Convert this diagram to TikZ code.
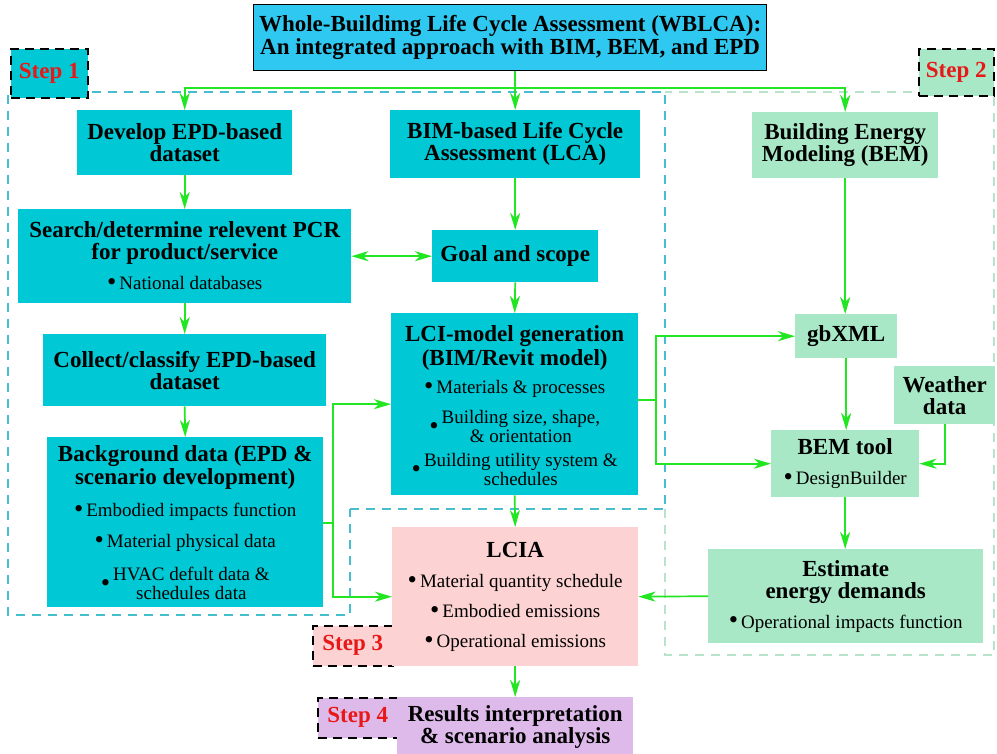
\documentclass[tikz,border=0pt]{standalone}
\usepackage{fontspec}
\setmainfont{Liberation Serif}
\usetikzlibrary{arrows.meta}

\definecolor{titleblue}{RGB}{46,200,240}
\definecolor{cyanbox}{RGB}{0,200,212}
\definecolor{greenbox}{RGB}{168,232,198}
\definecolor{pinkbox}{RGB}{252,210,210}
\definecolor{purplebox}{RGB}{222,186,234}
\definecolor{flowgreen}{RGB}{34,230,34}
\definecolor{regioncyan}{RGB}{70,190,208}
\definecolor{regiongreen}{RGB}{184,226,204}
\definecolor{steptext}{RGB}{232,24,24}

% body font, heading lines, bullets and multi-line bullets
\newcommand\bodyfont{\fontsize{19}{21}\selectfont\setlength{\lineskiplimit}{-60pt}}
\newcommand\hd{\fontsize{23}{23}\selectfont\bfseries}
\newcommand\dotmark{\raisebox{-0.8pt}{\scalebox{1.4}{\textbullet}}}
\newcommand\bul{\dotmark\hspace{3pt}}
\newcommand\mbul[2]{\dotmark\hspace{3pt}%
  \setlength{\lineskiplimit}{0pt}\renewcommand\arraystretch{0.9}%
  \begin{tabular}{@{}c@{}}#1\\#2\end{tabular}}

\tikzset{
  box/.style={draw=none, align=center, inner sep=0pt, anchor=north west,
    font=\bodyfont},
  stepbox/.style={draw=black, line width=1.6pt, dash pattern=on 9pt off 6pt,
    inner sep=0pt, anchor=north west, text=steptext,
    font=\fontsize{23}{23}\selectfont\bfseries},
  tip/.tip={Stealth[length=17pt, width=10pt, inset=5pt]},
  flow/.style={draw=flowgreen, line width=1.7pt, -tip},
  flowboth/.style={draw=flowgreen, line width=1.7pt, tip-tip},
  link/.style={draw=flowgreen, line width=1.7pt},
  regionA/.style={draw=regioncyan, line width=1.3pt, dash pattern=on 9pt off 7pt},
  regionB/.style={draw=regiongreen, line width=1.3pt, dash pattern=on 9pt off 7pt},
}

\begin{document}
\begin{tikzpicture}[x=1pt, y=-1pt]
\useasboundingbox (0,0) rectangle (997,754);
\fill[white] (0,0) rectangle (997,754);

% dashed outlines of the step regions
\draw[regionB] (665,509) -- (665,655) -- (994,655) -- (994,92) -- (665,92);
\draw[regionA] (350,509) -- (665,509) -- (665,92) -- (8,92) -- (8,615) -- (350,615) -- cycle;

% title
\node[box, fill=titleblue, draw=black, line width=1.2pt, minimum width=513pt, minimum height=66pt]
  (title) at (253,4) {\hd Whole-Buildimg Life Cycle Assessment (WBLCA):\\[2pt]
  \hd An integrated approach with BIM, BEM, and EPD};

% step labels
\node[stepbox, fill=cyanbox, minimum width=77pt, minimum height=49pt] (s1) at (10,48) {Step 1};
\node[stepbox, fill=greenbox, minimum width=75pt, minimum height=47pt] (s2) at (918,48) {Step 2};
\node[stepbox, fill=pinkbox, minimum width=80pt, minimum height=40pt] (s3) at (312,625) {Step 3};
\node[stepbox, fill=purplebox, minimum width=80pt, minimum height=40pt] (s4) at (317,697) {Step 4};

% EPD column
\node[box, fill=cyanbox, minimum width=215pt, minimum height=65pt] (dev) at (77,110)
  {\hd Develop EPD-based\\[1pt] \hd dataset};
\node[box, fill=cyanbox, minimum width=333pt, minimum height=94pt] (search) at (18,209)
  {\hd Search/determine relevent PCR\\[1pt] \hd for product/service\\[9pt] \bul National databases};
\node[box, fill=cyanbox, minimum width=283pt, minimum height=72pt] (collect) at (43,334)
  {\hd Collect/classify EPD-based\\[1pt] \hd dataset};
\node[box, fill=cyanbox, minimum width=276pt, minimum height=170pt] (bg) at (47,437)
  {\mbox{}\\[1pt] \hd Background data (EPD \&\\[2pt] \hd scenario development)\\[11pt]
   \bul Embodied impacts function\\[10pt] \bul Material physical data\\[22pt]
   \mbul{HVAC defult data \&}{schedules data}};

% BIM column
\node[box, fill=cyanbox, minimum width=250pt, minimum height=68pt] (bim) at (390,110)
  {\hd BIM-based Life Cycle\\[1pt] \hd Assessment (LCA)};
\node[box, fill=cyanbox, minimum width=166pt, minimum height=52pt] (goal) at (432,230)
  {\hd Goal and scope};
\node[box, fill=cyanbox, minimum width=247pt, minimum height=182pt] (lci) at (391,313)
  {\mbox{}\\[3pt] \hd LCI-model generation\\[3pt] \hd (BIM/Revit model)\\[7pt]
   \bul Materials \& processes\\[19pt]
   \mbul{Building size, shape,}{\& orientation}\\[22pt]
   \mbul{Building utility system \&}{schedules}};
\node[box, fill=pinkbox, minimum width=246pt, minimum height=139pt] (lcia) at (392,527)
  {\hd LCIA\\[9pt] \bul Material quantity schedule\\[9pt] \bul Embodied emissions\\[9pt]
   \bul Operational emissions};
\node[box, fill=purplebox, minimum width=236pt, minimum height=60pt] (res) at (397,697)
  {\hd Results interpretation\\[1pt] \hd \& scenario analysis};

% BEM column
\node[box, fill=greenbox, minimum width=186pt, minimum height=66pt] (bem) at (752,112)
  {\hd Building Energy\\[1pt] \hd Modeling (BEM)};
\node[box, fill=greenbox, minimum width=102pt, minimum height=44pt] (gbxml) at (795,314)
  {\hd gbXML};
\node[box, fill=greenbox, minimum width=101pt, minimum height=58pt] (weather) at (894,366)
  {\hd Weather\\[1pt] \hd data};
\node[box, fill=greenbox, minimum width=148pt, minimum height=67pt] (tool) at (771,430)
  {\hd BEM tool\\[9pt] \bul DesignBuilder};
\node[box, fill=greenbox, minimum width=275pt, minimum height=94pt] (est) at (708,549)
  {\hd Estimate\\[1pt] \hd energy demands\\[9pt] \bul Operational impacts function};

% connectors from the title
\coordinate (bus) at (0,88);
\draw[flow] (title.south -| bim.north) -- (bim.north);
\draw[flow] (bim.north |- bus) -- (dev.north |- bus) -- (dev.north);
\draw[flow] (bim.north |- bus) -- (bem.north |- bus) -- (bem.north);

% EPD column flow
\draw[flow] (dev.south) -- (search.north);
\draw[flow] (search.south) -- (collect.north);
\draw[flow] (collect.south) -- (bg.north);
\draw[flowboth] (search.east) -- (goal.west);

% BIM column flow
\draw[flow] (bim.south) -- (goal.north);
\draw[flow] (goal.south) -- (lci.north);
\draw[flow] (lci.south) -- (lcia.north);
\draw[flow] (lcia.south) -- (res.north);

% background data feeds the model and the impact assessment
\coordinate (jb) at (333,523);
\draw[link] (bg.east |- jb) -- (jb);
\draw[flow] (jb) |- (lci.west);
\draw[flow] (jb) |- (lcia.west);

% model export to the energy side
\coordinate (jl) at (656,400);
\draw[link] (lci.east |- jl) -- (jl);
\draw[flow] (jl) |- (gbxml.west);
\draw[flow] (jl) |- (tool.west);

% BEM column flow
\draw[flow] (bem.south) -- (bem.south |- gbxml.north);
\draw[flow] (gbxml.south) -- (gbxml.south |- tool.north);
\draw[flow] (weather.south) |- (tool.east);
\draw[flow] (tool.south) -- (tool.south |- est.north);
\draw[flow] (est.west) -- (lcia.east);
\end{tikzpicture}
\end{document}
